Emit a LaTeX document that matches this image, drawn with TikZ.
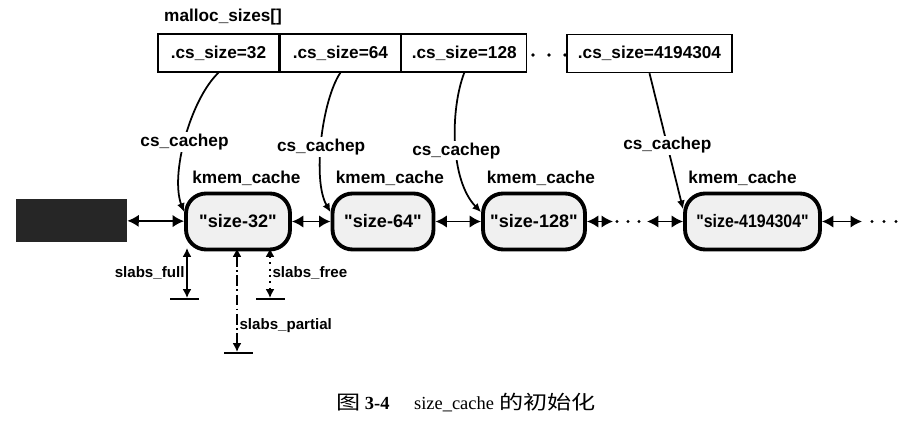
\documentclass[tikz,border=0pt]{standalone}
\usepackage{fontspec}
\setmainfont{Liberation Serif}
\setsansfont{Liberation Sans}
\newfontfamily\cjk[FakeStretch=1.25]{Noto Sans CJK SC}
\usetikzlibrary{arrows.meta, positioning}

\begin{document}
\begin{tikzpicture}[
    x=0.02cm, y=-0.02cm,
    font=\sffamily\bfseries\fontsize{9.8}{11}\selectfont,
    cell/.style={rectangle, draw, line width=0.8pt, minimum height=0.76cm, inner sep=0pt},
    cache/.style={rectangle, draw, rounded corners=0.4cm, line width=2.2pt, fill=gray!12, minimum height=1.12cm, inner sep=0pt, font=\sffamily\bfseries\fontsize{10.3}{12}\selectfont},
    ptr/.style={-{Latex[length=5pt,width=4.5pt]}, line width=1pt},
    link/.style={{Latex[length=6.5pt,width=7pt]}-{Latex[length=6.5pt,width=7pt]}, line width=1pt},
    slab/.style={{Latex[length=5pt,width=5pt]}-{Latex[length=5pt,width=5pt]}, line width=0.9pt},
    lbl/.style={fill=white, inner sep=1pt},
    slablbl/.style={inner sep=1pt, font=\sffamily\bfseries\fontsize{8.6}{10}\selectfont},
    ground/.style={line width=1pt}
]
    \useasboundingbox (0,0) rectangle (919,425);

    % malloc_sizes array
    \node[anchor=west] (title) at (158,17) {malloc\_sizes[]};
    \node[cell, minimum width=2.42cm] (c32) at (218.5,53) {.cs\_size=32};
    \node[cell, minimum width=2.4cm, right=0pt of c32] (c64) {.cs\_size=64};
    \node[cell, minimum width=2.5cm, right=0pt of c64] (c128) {.cs\_size=128};
    \node[cell, minimum width=3.3cm] (c4M) at (649.5,53.5) {.cs\_size=4194304};
    \foreach \x in {533,549,565} \fill (\x,55) circle (1.1pt);

    % kmem_cache list
    \node[fill=black!85, minimum width=2.22cm, minimum height=0.86cm, inner sep=0pt] (head) at (71.5,220.5) {};
    \node[cache, minimum width=2.08cm, label={[xshift=0.17cm]above:kmem\_cache}] (s32) at (238,221.5) {\textquotedbl size-32\textquotedbl};
    \node[cache, minimum width=2.02cm, label={[xshift=0.14cm]above:kmem\_cache}] (s64) at (383,221.5) {\textquotedbl size-64\textquotedbl};
    \node[cache, minimum width=2.04cm, label={[xshift=0.14cm]above:kmem\_cache}] (s128) at (534,221.5) {\textquotedbl size-128\textquotedbl};
    \node[cache, minimum width=2.7cm, label={[xshift=-0.2cm]above:kmem\_cache}] (s4M) at (752.5,221.5) {\scalebox{0.88}[1]{\textquotedbl size-4194304\textquotedbl}};

    \coordinate (e128) at (613,221.5);
    \coordinate (b4M) at (647,221.5);
    \coordinate (e4M) at (862,221.5);

    \draw[link] (head) -- (s32);
    \draw[link] (s32) -- (s64);
    \draw[link] (s64) -- (s128);
    \draw[link] (s128) -- (e128);
    \foreach \x in {617,628,639} \fill (\x,221.5) circle (0.9pt);
    \draw[link] (b4M) -- (s4M);
    \draw[link] (s4M) -- (e4M);
    \foreach \x in {872,884,896} \fill (\x,221.5) circle (0.9pt);

    % cs_cachep pointers
    \draw[ptr] (c32.south) .. controls (190,100) and (170,175) .. node[lbl, pos=0.52] {cs\_cachep} (s32.170);
    \draw[ptr] (c64.south) .. controls (322,100) and (312,180) .. node[lbl, pos=0.54] {cs\_cachep} (s64.170);
    \draw[ptr] (c128.south) .. controls (450,110) and (450,180) .. node[lbl, pos=0.54] {cs\_cachep} (s128.170);
    \draw[ptr] (c4M.south) -- node[lbl, pos=0.53] {cs\_cachep} (s4M.170);

    % slab lists
    \coordinate (fullT) at (187,248);
    \coordinate (fullB) at (187,298);
    \coordinate (partT) at (237,248);
    \coordinate (partB) at (237,352);
    \coordinate (freeT) at (270,248);
    \coordinate (freeB) at (270,298);

    \draw[slab] (fullT) -- node[slablbl, left] {slabs\_full} (fullB);
    \draw[slab, dash pattern=on 6pt off 2pt on 1pt off 2pt] (partT) -- node[slablbl, right, pos=0.75] {slabs\_partial} (partB);
    \draw[slab, dash pattern=on 1.2pt off 2.4pt] (freeT) -- node[slablbl, right] {slabs\_free} (freeB);
    \draw[ground] (170,299) -- (199,299);
    \draw[ground] (224,353) -- (253,353);
    \draw[ground] (256,299) -- (285,299);

    % caption
    \node[font=\rmfamily\mdseries\fontsize{10.5}{12}\selectfont] (cap) at (466,403) {{\cjk\fontsize{11}{12}\selectfont 图} \textbf{3-4}\hspace{14pt}size\_cache\hspace{3pt}{\cjk\fontsize{11}{12}\selectfont 的初始化}};
\end{tikzpicture}
\end{document}
